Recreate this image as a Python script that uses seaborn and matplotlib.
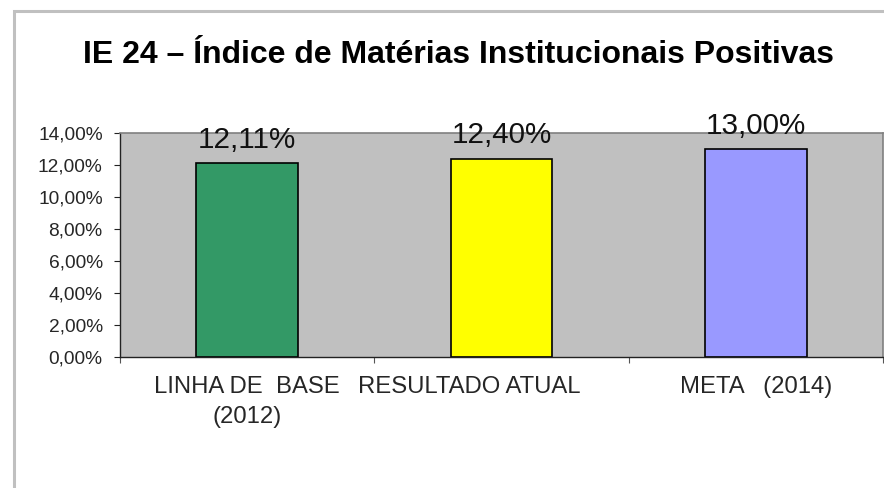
import matplotlib
matplotlib.use("Agg")
import matplotlib.pyplot as plt
import matplotlib.patches as mpatches
from matplotlib.ticker import FuncFormatter, FixedLocator
from matplotlib.transforms import ScaledTranslation
import seaborn as sns
import pandas as pd

# data
categories = ["LINHA DE  BASE\n(2012)", "RESULTADO ATUAL", "META   (2014)"]
values = [12.11, 12.40, 13.00]
bar_colors = ["#339966", "#FFFF00", "#9999FF"]
y_ticks = [0, 2, 4, 6, 8, 10, 12, 14]
title = "IE 24 – Índice de Matérias Institucionais Positivas"

sns.set_theme(style="white")
plt.rcParams['font.family'] = ['Liberation Sans', 'DejaVu Sans']


def pct(v, _=None):
    return f"{v:.2f}%".replace('.', ',')


df = pd.DataFrame({"cat": categories, "val": values})

fig = plt.figure(figsize=(8.84, 4.88), dpi=100)
fig.patch.set_facecolor("white")
ax = fig.add_axes([120 / 884, 1 - 357 / 488, 763 / 884, 224 / 488])

sns.barplot(data=df, x="cat", y="val", hue="cat", palette=bar_colors,
            legend=False, width=0.4, edgecolor="black", linewidth=1.2,
            saturation=1, ax=ax)

ax.set_facecolor("#C0C0C0")
ax.set_ylim(0, 14)
ax.set_xlim(-0.5, 2.5)
ax.yaxis.set_major_locator(FixedLocator(y_ticks))
ax.yaxis.set_major_formatter(FuncFormatter(pct))
ax.set_xlabel("")
ax.set_ylabel("")

for s in ["top", "right"]:
    ax.spines[s].set_color("#808080")
    ax.spines[s].set_linewidth(1.2)
for s in ["left", "bottom"]:
    ax.spines[s].set_color("#222222")
    ax.spines[s].set_linewidth(1.0)

ax.tick_params(axis="y", direction="out", length=4.5, width=0.8,
               color="#222222", labelsize=13.8, pad=8, left=True)
ax.tick_params(axis="x", which="major", length=0, labelsize=17.2, pad=14)
ax.set_xticks([-0.5, 0.5, 1.5, 2.5], minor=True)
ax.tick_params(axis="x", which="minor", direction="out", length=4.5,
               width=0.8, color="#555555", bottom=True)

for lbl in ax.get_xticklabels():
    lbl.set_multialignment("center")
    lbl.set_linespacing(1.45)
mid = ax.get_xticklabels()[1]
mid.set_transform(mid.get_transform() + ScaledTranslation(-0.32, 0, fig.dpi_scale_trans))

for i, v in enumerate(values):
    ax.annotate(pct(v), (i, v), xytext=(0, 11), textcoords="offset points",
                ha="center", va="baseline", fontsize=21.3, color="#111111",
                annotation_clip=False)

fig.text(458 / 884, 1 - 63 / 488, title, ha="center", va="baseline",
         fontsize=23, fontweight="bold", color="black")

# outer chart frame (clipped on the right and bottom in the reference)
fig.patches.append(mpatches.Rectangle((14 / 884, -0.2), 1.2, 1.2 - 11 / 488,
                                      transform=fig.transFigure, fill=False,
                                      edgecolor="#C0C0C0", linewidth=2.2))

fig.savefig("out.png", dpi=100)
